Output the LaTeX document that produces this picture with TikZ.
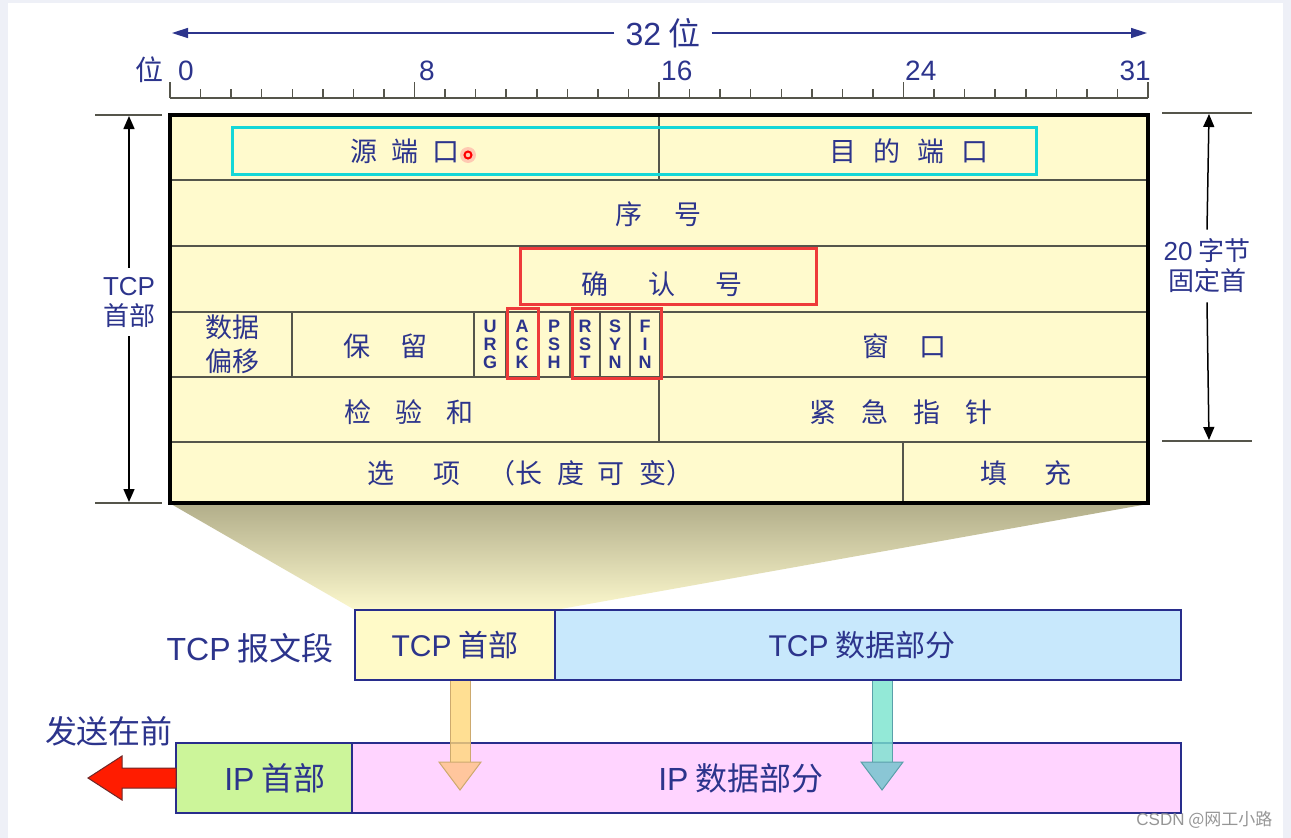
\documentclass[tikz,border=0pt]{standalone}
\usepackage{fontspec}
\setmainfont{Liberation Sans}
\newfontfamily\cjk{Noto Sans CJK SC}
\usetikzlibrary{arrows.meta,calc}
\definecolor{labelblue}{RGB}{44,52,140}
\definecolor{hdryellow}{RGB}{255,250,205}
\definecolor{rowgray}{RGB}{85,85,75}
\definecolor{markcyan}{RGB}{20,215,215}
\definecolor{markred}{RGB}{238,58,58}
\definecolor{boxnavy}{RGB}{40,45,140}
\definecolor{tcpyellow}{RGB}{255,250,200}
\definecolor{tcpblue}{RGB}{200,232,252}
\definecolor{ipgreen}{RGB}{204,245,154}
\definecolor{ippink}{RGB}{255,212,255}
\definecolor{pagegray}{RGB}{238,240,247}
\definecolor{funneltop}{RGB}{178,174,138}
\definecolor{funnelbot}{RGB}{252,248,205}
\definecolor{sendred}{RGB}{255,28,0}
\definecolor{sendedge}{RGB}{110,40,40}
\definecolor{hdrshaft}{RGB}{255,216,120}
\definecolor{hdrhead}{RGB}{255,196,140}
\definecolor{hdredge}{RGB}{205,170,110}
\definecolor{datashaft}{RGB}{120,228,205}
\definecolor{datahead}{RGB}{118,196,206}
\definecolor{dataedge}{RGB}{90,160,170}
\definecolor{markgray}{RGB}{150,150,150}
\newcommand{\lat}{\rmfamily}
\newcommand{\g}[1]{\hspace{#1pt}}

\begin{document}
\begin{tikzpicture}[x=1pt,y=-1pt,
  field/.style={font=\cjk\fontsize{27}{34}\selectfont, text=labelblue, inner sep=0pt, align=center},
  flag/.style={font=\bfseries\fontsize{18}{18}\selectfont, text=labelblue, inner sep=0pt, align=center},
  dimtext/.style={font=\cjk\fontsize{26}{30}\selectfont, text=labelblue, align=center, inner xsep=2pt, inner ysep=9pt},
  dimarrow/.style={draw=rowgray, line width=1.5, -{Triangle[length=13pt,width=11pt]}, black},
  rulerline/.style={draw=rowgray, line width=1.5},
  rulernum/.style={font=\fontsize{28}{28}\selectfont, text=labelblue, inner sep=0pt},
  seg/.style={draw=boxnavy, line width=2.5, minimum height=70, inner sep=0pt, outer sep=0pt, font=\cjk\fontsize{30}{32}\selectfont, text=labelblue},
  seglabel/.style={font=\cjk\fontsize{32}{34}\selectfont, text=labelblue, inner sep=0pt},
  markbox/.style={line width=3}]

  % page
  \fill[pagegray] (0,0) rectangle (1291,838);
  \fill[white] (8,3) rectangle (1283,838);
  \useasboundingbox (0,0) rectangle (1291,838);

  % 32 bit width
  \node[dimtext, font=\cjk\fontsize{32}{32}\selectfont, inner xsep=11pt] (bits) at (663,33) {{\lat 32} 位};
  \draw[labelblue, line width=1.5, -{Triangle[length=16pt,width=10pt]}] (bits.west) -- (172,33);
  \draw[labelblue, line width=1.5, -{Triangle[length=16pt,width=10pt]}] (bits.east) -- (1147,33);

  % ruler
  \draw[rulerline] (170,98) -- (1148,98);
  \foreach \i in {0,...,32} {
    \pgfmathsetmacro{\tx}{170+\i*30.5625}
    \pgfmathsetmacro{\th}{mod(\i,8)==0 ? 16 : 9}
    \draw[rulerline] (\tx,98) -- (\tx,98-\th);
  }
  \node[rulernum, font=\cjk\fontsize{28}{28}\selectfont, anchor=base east] (bitword) at (164,80) {位};
  \node[rulernum, anchor=base west] (b0) at (178,80) {0};
  \node[rulernum, anchor=base west] (b8) at (419,80) {8};
  \node[rulernum, anchor=base west] (b16) at (661,80) {16};
  \node[rulernum, anchor=base west] (b24) at (905,80) {24};
  \node[rulernum, anchor=base east] (b31) at (1151,80) {31};

  % funnel to the segment
  \shade[top color=funneltop, bottom color=funnelbot] (171,504) -- (1148,504) -- (555,610) -- (355,610) -- cycle;

  % header table
  \fill[hdryellow] (170,115) rectangle (1148,503);
  \foreach \y in {180,246,312,377,442}
    \draw[rowgray, line width=2] (170,\y) -- (1148,\y);
  \draw[rowgray, line width=1.5] (659,115) -- (659,180);
  \draw[rowgray, line width=1.5] (659,377) -- (659,442);
  \foreach \x in {292,474,506,538,570,600,630,660}
    \draw[rowgray, line width=1.5] (\x,312) -- (\x,377);
  \draw[rowgray, line width=1.5] (903,442) -- (903,503);
  \draw[black, line width=3.5] (170,115) rectangle (1148,503);

  \node[field] (srcport) at (405,151) {源\g{14}端\g{14}口};
  \node[field] (dstport) at (909,151) {目\g{17}的\g{17}端\g{17}口};
  \node[field] (seqno) at (658,214) {序\g{32}号};
  \node[field] (ackno) at (662,284) {确\g{40}认\g{40}号};
  \node[field] (offset) at (232,344) {数据\\偏移};
  \node[field] (reserved) at (385,346) {保\g{30}留};
  \node[flag] (urg) at (490,344) {U\\R\\G};
  \node[flag] (ack) at (522,344) {A\\C\\K};
  \node[flag] (psh) at (554,344) {P\\S\\H};
  \node[flag] (rst) at (585,344) {R\\S\\T};
  \node[flag] (syn) at (615,344) {S\\Y\\N};
  \node[flag] (fin) at (645,344) {F\\I\\N};
  \node[field] (window) at (904,346) {窗\g{30}口};
  \node[field] (checksum) at (409,412) {检\g{24}验\g{24}和};
  \node[field] (urgptr) at (901,412) {紧\g{25}急\g{25}指\g{25}针};
  \node[field] (options) at (530,473) {选\g{40}项\g{28}（长\g{14}度\g{14}可\g{14}变）};
  \node[field] (padding) at (1026,473) {填\g{38}充};

  % highlights
  \draw[markcyan, markbox] (232,127) rectangle (1036,174);
  \draw[markred, markbox] (520,248) rectangle (816,304);
  \draw[markred, markbox] (507,308) rectangle (538,378);
  \draw[markred, markbox] (572,308) rectangle (661,378);
  \fill[red!40, opacity=0.5] (468,155) circle (8);
  \draw[red, line width=2] (468,155) circle (3.5);

  % header length marks
  \draw[rowgray, line width=1.5] (95,115) -- (162,115);
  \draw[rowgray, line width=1.5] (95,503) -- (162,503);
  \node[dimtext] (hdrlen) at (129,302) {{\lat TCP}\\首部};
  \coordinate (ltop) at (129,116);
  \coordinate (lbot) at (129,502);
  \draw[dimarrow] (hdrlen.north) -- (ltop);
  \draw[dimarrow] (hdrlen.south) -- (lbot);

  \draw[rowgray, line width=1.5] (1162,113) -- (1252,113);
  \draw[rowgray, line width=1.5] (1162,441) -- (1252,441);
  \node[dimtext] (fixlen) at (1207,266) {{\lat 20} 字节\\固定首};
  \coordinate (rtop) at (1209,114);
  \coordinate (rbot) at (1209,440);
  \draw[dimarrow] (fixlen.north) -- (rtop);
  \draw[dimarrow] (fixlen.south) -- (rbot);

  % TCP segment
  \node[seglabel, anchor=east] (seglabel) at (334,648) {{\lat TCP} 报文段};
  \node[seg, fill=tcpyellow, minimum width=200, anchor=north west] (tcphdr) at (355,610) {{\lat TCP} 首部};
  \node[seg, fill=tcpblue, minimum width=626, anchor=west] (tcpdata) at (tcphdr.east) {};
  \node[seg, draw=none] (tcpdatatext) at (862,645) {{\lat TCP} 数据部分};

  % IP datagram
  \node[seglabel, anchor=base] (sendfirst) at (109,743) {发送在前};
  \node[seg, fill=ipgreen, minimum width=176, anchor=north west] (iphdr) at (176,743) {};
  \node[seglabel] (iphdrtext) at (275,778) {{\lat IP} 首部};
  \node[seg, fill=ippink, minimum width=829, anchor=west] (ipdata) at (iphdr.east) {};
  \node[seglabel] (ipdatatext) at (741,778) {{\lat IP} 数据部分};

  % red arrow: sent first
  \filldraw[fill=sendred, draw=sendedge, line width=1]
    (iphdr.west |- 0,768) -- (122,768) -- (122,756) -- (88,778) -- (122,800) -- (122,788) -- (iphdr.west |- 0,788) -- cycle;

  % fat arrows into the IP datagram
  \fill[hdrshaft, fill opacity=0.8] (450,681) rectangle (470,762);
  \filldraw[fill=hdrhead, fill opacity=0.85, draw=hdredge, line width=1]
    (439,762) -- (481,762) -- (460,790) -- cycle;
  \draw[hdredge, line width=1] (450,681) -- (450,762) (470,681) -- (470,762);

  \fill[datashaft, fill opacity=0.8] (872,681) rectangle (892,762);
  \filldraw[fill=datahead, fill opacity=0.85, draw=dataedge, line width=1]
    (861,762) -- (903,762) -- (882,790) -- cycle;
  \draw[dataedge, line width=1] (872,681) -- (872,762) (892,681) -- (892,762);

  % watermark
  \node[font=\cjk\fontsize{17}{17}\selectfont, text=markgray, anchor=east] (mark) at (1276,820) {{\lat CSDN} @网工小路};
\end{tikzpicture}
\end{document}
